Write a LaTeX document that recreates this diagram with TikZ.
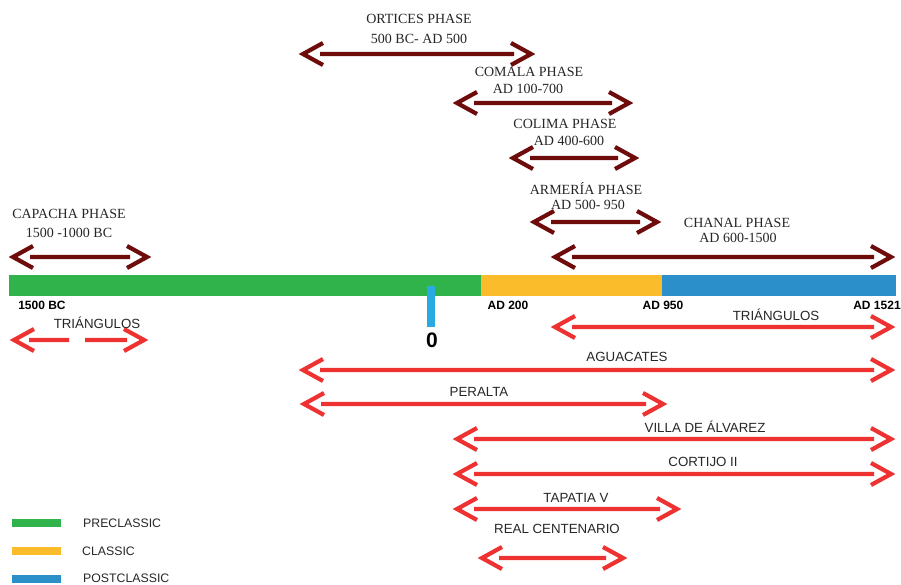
\documentclass[tikz,border=0pt]{standalone}
\usepackage{fontspec}
\setmainfont{Liberation Serif}
\setsansfont{Liberation Sans}
\usepackage{xcolor}
\usetikzlibrary{calc,positioning}

\definecolor{phasered}{HTML}{6E0B0B}
\definecolor{sitered}{HTML}{EE3232}
\definecolor{preclassic}{HTML}{30B34A}
\definecolor{classic}{HTML}{FBBC2B}
\definecolor{postclassic}{HTML}{2B8FC9}
\definecolor{zerotick}{HTML}{29ABE2}

\tikzset{
  % open chevron at both ends, shaft stops at the back of the chevrons
  twoway/.style={line width=4.2pt, miter limit=6,
    to path={($(\tikztostart)+(24,-11)$) -- ($(\tikztostart)+(4,0)$) -- ($(\tikztostart)+(24,11)$)
      ($(\tikztostart)+(21,0)$) -- ($(\tikztotarget)+(-21,0)$)
      ($(\tikztotarget)+(-24,-11)$) -- ($(\tikztotarget)+(-4,0)$) -- ($(\tikztotarget)+(-24,11)$)}},
  twowaygap/.style={line width=4.2pt, miter limit=6,
    to path={($(\tikztostart)+(24,-11)$) -- ($(\tikztostart)+(4,0)$) -- ($(\tikztostart)+(24,11)$)
      ($(\tikztostart)+(19,0)$) -- ($($(\tikztostart)!0.5!(\tikztotarget)$)+(-10,0)$)
      ($($(\tikztostart)!0.5!(\tikztotarget)$)+(6,0)$) -- ($(\tikztotarget)+(-21,0)$)
      ($(\tikztotarget)+(-24,-11)$) -- ($(\tikztotarget)+(-4,0)$) -- ($(\tikztotarget)+(-24,11)$)}},
  phasearrow/.style={draw=phasered, twoway},
  sitearrow/.style={draw=sitered, twoway},
  phasetext/.style={inner sep=0pt, font=\fontsize{14}{16}\selectfont, text=black!85},
  sitetext/.style={inner sep=0pt, font=\sffamily\fontsize{13.3}{15}\selectfont, text=black!85},
  yeartext/.style={inner sep=0pt, font=\sffamily\bfseries\fontsize{12}{14}\selectfont},
  legendtext/.style={inner sep=0pt, anchor=west, font=\sffamily\fontsize{12.3}{14}\selectfont, text=black!85}
}

\begin{document}
\begin{tikzpicture}[x=1pt,y=-1pt]
  \useasboundingbox (0,0) rectangle (901,584);

  % Time line
  \fill[preclassic] (9,275) rectangle (481,296);
  \fill[classic] (481,275) rectangle (662,296);
  \fill[postclassic] (662,275) rectangle (896,296);
  \fill[zerotick] (427,286) rectangle (435,327);

  % Years
  \node[yeartext] (y1500) at (42,305) {1500 BC};
  \node[yeartext] (y200) at (508,305) {AD 200};
  \node[yeartext] (y950) at (663,305) {AD 950};
  \node[yeartext] (y1521) at (877,305) {AD 1521};
  \node[inner sep=0pt, font=\sffamily\bfseries\fontsize{21}{21}\selectfont] (zero) at (432,340) {0};

  % Phases
  \coordinate (ortL) at (299,54);  \coordinate (ortR) at (535,54);
  \coordinate (comL) at (453,103); \coordinate (comR) at (633,103);
  \coordinate (colL) at (509,158); \coordinate (colR) at (639,158);
  \coordinate (armL) at (530,222); \coordinate (armR) at (661,222);
  \coordinate (chaL) at (551,257); \coordinate (chaR) at (895,257);
  \coordinate (capL) at (9,257);   \coordinate (capR) at (151,257);
  \draw[phasearrow] (ortL) to (ortR);
  \draw[phasearrow] (comL) to (comR);
  \draw[phasearrow] (colL) to (colR);
  \draw[phasearrow] (armL) to (armR);
  \draw[phasearrow] (chaL) to (chaR);
  \draw[phasearrow] (capL) to (capR);

  \node[phasetext] (ortname) at (419,19) {ORTICES PHASE};
  \node[phasetext] (ortdate) at (419,39) {500 BC- AD 500};
  \node[phasetext] (comname) at (529,72) {COMALA PHASE};
  \node[phasetext] (comdate) at (528,89) {AD 100-700};
  \node[phasetext] (colname) at (565,124) {COLIMA PHASE};
  \node[phasetext] (coldate) at (569,141) {AD 400-600};
  \node[phasetext] (armname) at (586,189) {ARMERÍA PHASE};
  \node[phasetext] (armdate) at (588,205) {AD 500- 950};
  \node[phasetext] (chaname) at (737,223) {CHANAL PHASE};
  \node[phasetext] (chadate) at (738,238) {AD 600-1500};
  \node[phasetext] (capname) at (69,214) {CAPACHA PHASE};
  \node[phasetext] (capdate) at (69,233) {1500 -1000 BC};

  % Sites
  \coordinate (triaL) at (10,340);  \coordinate (triaR) at (148,340);
  \coordinate (tribL) at (551,327); \coordinate (tribR) at (895,327);
  \coordinate (aguL) at (299,370);  \coordinate (aguR) at (895,370);
  \coordinate (perL) at (300,404);  \coordinate (perR) at (667,404);
  \coordinate (vilL) at (453,439);  \coordinate (vilR) at (895,439);
  \coordinate (corL) at (453,474);  \coordinate (corR) at (895,474);
  \coordinate (tapL) at (453,509);  \coordinate (tapR) at (681,509);
  \coordinate (reaL) at (478,558);  \coordinate (reaR) at (627,558);
  \draw[draw=sitered, twowaygap] (triaL) to (triaR);
  \draw[sitearrow] (tribL) to (tribR);
  \draw[sitearrow] (aguL) to (aguR);
  \draw[sitearrow] (perL) to (perR);
  \draw[sitearrow] (vilL) to (vilR);
  \draw[sitearrow] (corL) to (corR);
  \draw[sitearrow] (tapL) to (tapR);
  \draw[sitearrow] (reaL) to (reaR);

  \node[sitetext] (trianame) at (97,323) {TRIÁNGULOS};
  \node[sitetext] (tribname) at (776,315) {TRIÁNGULOS};
  \node[sitetext] (aguname) at (627,357) {AGUACATES};
  \node[sitetext] (pername) at (479,392) {PERALTA};
  \node[sitetext] (vilname) at (705,427) {VILLA DE ÁLVAREZ};
  \node[sitetext] (corname) at (703,462) {CORTIJO II};
  \node[sitetext] (tapname) at (576,498) {TAPATIA V};
  \node[sitetext] (reaname) at (557,529) {REAL CENTENARIO};

  % Legend
  \fill[preclassic] (12,519) rectangle (61,527);
  \fill[classic] (12,547) rectangle (61,555);
  \fill[postclassic] (12,575) rectangle (61,583);
  \node[legendtext] (pre) at (83,523) {PRECLASSIC};
  \node[legendtext] (cla) at (82,551) {CLASSIC};
  \node[legendtext] (post) at (83,578) {POSTCLASSIC};
\end{tikzpicture}
\end{document}
